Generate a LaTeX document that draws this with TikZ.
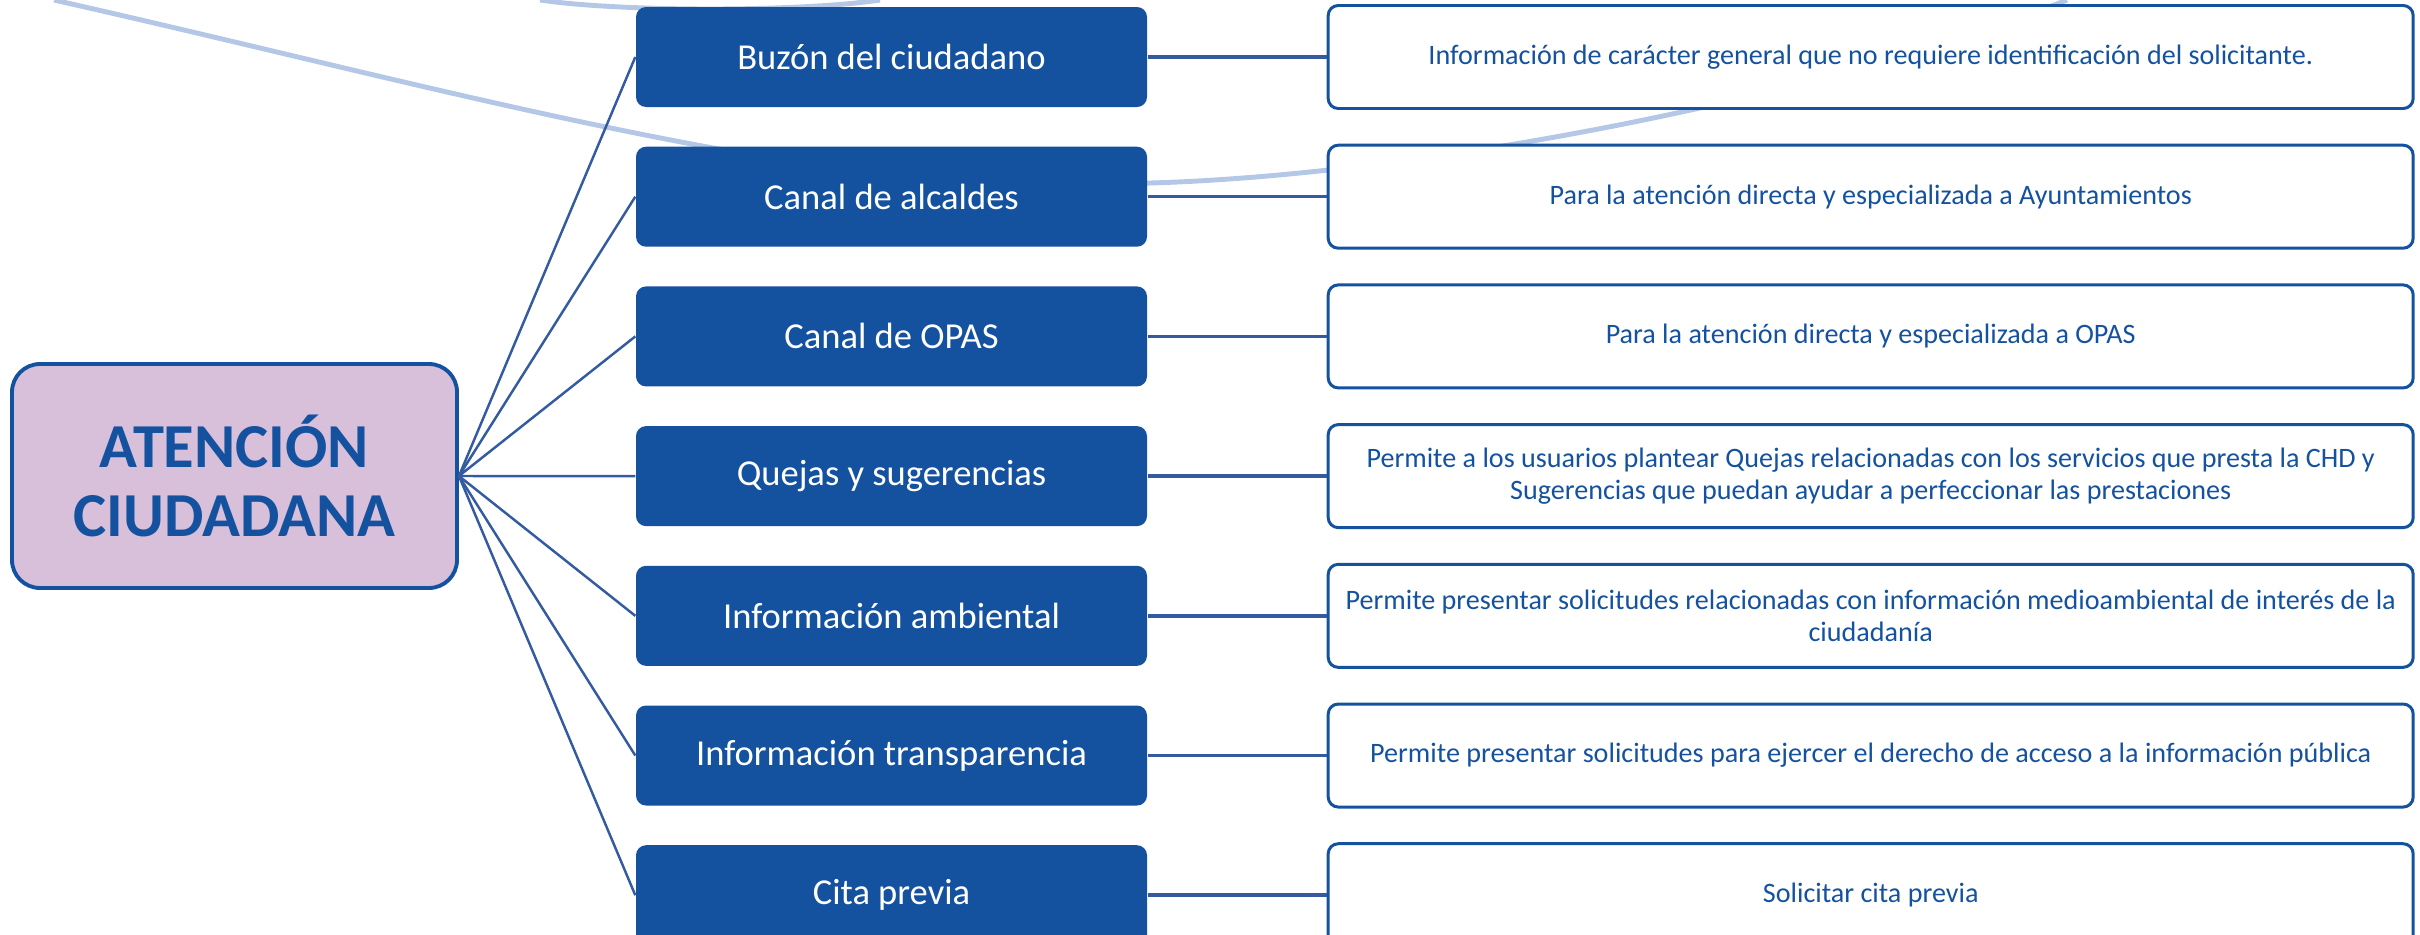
\documentclass[tikz,border=0pt]{standalone}
\usepackage{fontspec}
\setmainfont{Carlito}
\usepackage{xcolor}
\usepackage{tikz}
\usetikzlibrary{positioning, calc}

\definecolor{chdblue}{RGB}{20,82,160}
\definecolor{linkblue}{RGB}{52,90,160}
\definecolor{paleblue}{RGB}{180,199,231}
\definecolor{rootfill}{RGB}{216,191,218}

\begin{document}
\begin{tikzpicture}[
    x=0.1mm, y=-0.1mm,
    node distance=3.83mm and 17.9mm,
    root/.style={rectangle, draw=chdblue, line width=1.1pt, fill=rootfill, rounded corners=2.8mm, minimum width=44.5mm, minimum height=22.4mm, align=center, text=chdblue, font=\fontsize{17.8}{19.4}\selectfont\bfseries},
    channel/.style={rectangle, fill=chdblue, rounded corners=1mm, minimum width=51.1mm, minimum height=10mm, text=white, font=\fontsize{10.4}{12.5}\selectfont},
    detail/.style={rectangle, draw=chdblue, line width=0.85pt, fill=white, rounded corners=1mm, minimum width=108.5mm, minimum height=10.3mm, align=center, text=chdblue, font=\fontsize{8}{9}\selectfont},
    branch/.style={linkblue, line width=0.7pt},
    link/.style={linkblue, line width=1pt},
    swoosh/.style={paleblue, line width=1.4pt}
]
    \useasboundingbox (0,0) rectangle (2420,934);

    % background swooshes
    \draw [swoosh] (54,0) .. controls (454,90) and (850,206) .. (1150,183)
        .. controls (1400,176) and (1800,105) .. (2067,0);
    \draw [swoosh] (540,0) .. controls (620,12) and (800,12) .. (880,0);

    \node [root] (root) at (234.5,476) {ATENCIÓN\\CIUDADANA};

    \node [channel] (buzon) at (891.5,57) {Buzón del ciudadano};
    \node [channel, below=of buzon] (alcaldes) {Canal de alcaldes};
    \node [channel, below=of alcaldes] (opas) {Canal de OPAS};
    \node [channel, below=of opas] (quejas) {Quejas y sugerencias};
    \node [channel, below=of quejas] (ambiental) {Información ambiental};
    \node [channel, below=of ambiental] (transparencia) {Información transparencia};
    \node [channel, below=of transparencia] (cita) {Cita previa};

    \node [detail, right=of buzon] (buzonInfo) {Información de carácter general que no requiere identificación del solicitante.};
    \node [detail, right=of alcaldes] (alcaldesInfo) {Para la atención directa y especializada a Ayuntamientos};
    \node [detail, right=of opas] (opasInfo) {Para la atención directa y especializada a OPAS};
    \node [detail, right=of quejas] (quejasInfo) {Permite a los usuarios plantear Quejas relacionadas con los servicios que presta la CHD y\\Sugerencias que puedan ayudar a perfeccionar las prestaciones};
    \node [detail, right=of ambiental] (ambientalInfo) {Permite presentar solicitudes relacionadas con información medioambiental de interés de la\\ciudadanía};
    \node [detail, right=of transparencia] (transparenciaInfo) {Permite presentar solicitudes para ejercer el derecho de acceso a la información pública};
    \node [detail, right=of cita] (citaInfo) {Solicitar cita previa};

    \draw [branch] (root.east) -- (buzon.west);
    \draw [branch] (root.east) -- (alcaldes.west);
    \draw [branch] (root.east) -- (opas.west);
    \draw [branch] (root.east) -- (quejas.west);
    \draw [branch] (root.east) -- (ambiental.west);
    \draw [branch] (root.east) -- (transparencia.west);
    \draw [branch] (root.east) -- (cita.west);

    \draw [link] (buzon) -- (buzonInfo);
    \draw [link] (alcaldes) -- (alcaldesInfo);
    \draw [link] (opas) -- (opasInfo);
    \draw [link] (quejas) -- (quejasInfo);
    \draw [link] (ambiental) -- (ambientalInfo);
    \draw [link] (transparencia) -- (transparenciaInfo);
    \draw [link] (cita) -- (citaInfo);
\end{tikzpicture}
\end{document}
